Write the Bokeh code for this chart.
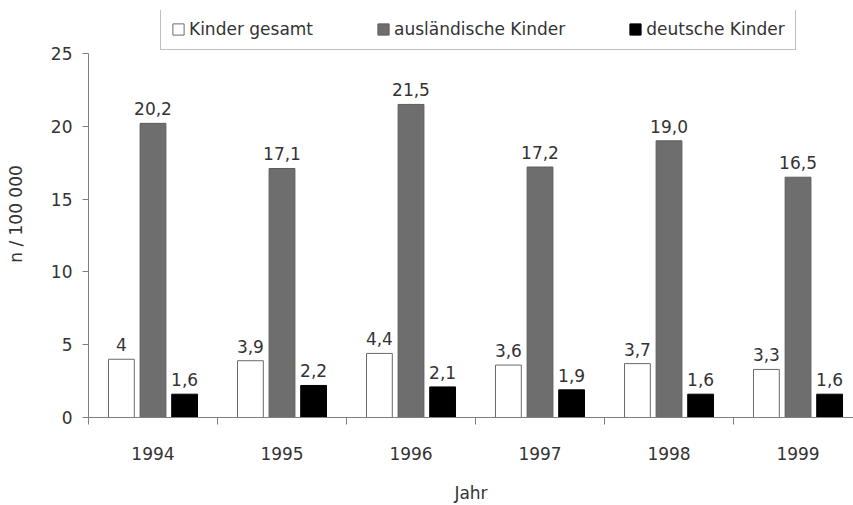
from bokeh.plotting import figure
from bokeh.models import (ColumnDataSource, Range1d, FixedTicker, Legend, LegendItem,
                          LabelSet)
from bokeh.transform import dodge
from bokeh.core.properties import value
from bokeh.embed import file_html
from bokeh.resources import INLINE

# ---- data ----
years = ["1994", "1995", "1996", "1997", "1998", "1999"]
kinder_gesamt = [4.0, 3.9, 4.4, 3.6, 3.7, 3.3]
auslaendische_kinder = [20.2, 17.1, 21.5, 17.2, 19.0, 16.5]
deutsche_kinder = [1.6, 2.2, 2.1, 1.9, 1.6, 1.6]
labels_gesamt = ["4", "3,9", "4,4", "3,6", "3,7", "3,3"]
labels_ausl = ["20,2", "17,1", "21,5", "17,2", "19,0", "16,5"]
labels_deut = ["1,6", "2,2", "2,1", "1,9", "1,6", "1,6"]
y_ticks = [0, 5, 10, 15, 20, 25]

FONT = "DejaVu Sans"
TXT = "#333333"
AXC = "#808080"

idx = list(range(len(years)))
src = ColumnDataSource(dict(x=idx, g=kinder_gesamt, a=auslaendische_kinder, d=deutsche_kinder,
                            gl=labels_gesamt, al=labels_ausl, dl=labels_deut))

# frame extends above the 25 mark so the legend can sit inside it
p = figure(width=853, height=505, output_backend="svg", toolbar_location=None,
           x_range=Range1d(-0.5, 5.43), y_range=Range1d(0, 27.95),
           min_border_left=88, min_border_right=0, min_border_top=10, min_border_bottom=87)
p.outline_line_color = None
p.xgrid.visible = False
p.ygrid.visible = False
p.background_fill_color = "white"
p.border_fill_color = "white"

off = 0.245
w = 0.2
r1 = p.vbar(x=dodge("x", -off), top="g", width=w, source=src,
            fill_color="white", line_color="#6a6a6a", line_width=1)
r2 = p.vbar(x="x", top="a", width=w, source=src,
            fill_color="#6e6e6e", line_color="#5c5c5c", line_width=1)
r3 = p.vbar(x=dodge("x", off), top="d", width=w, source=src,
            fill_color="#000000", line_color="#000000", line_width=1)

for col, lab, dx in (("g", "gl", -off), ("a", "al", 0.0), ("d", "dl", off)):
    ls = LabelSet(x=dodge("x", dx), y=col, text=lab, source=src,
                  text_align="center", text_baseline="bottom", y_offset=8,
                  text_font=value(FONT), text_font_size="17px", text_color=TXT)
    p.add_layout(ls)

# x axis
xa = p.xaxis[0]
xa.ticker = FixedTicker(ticks=idx, minor_ticks=[i - 0.5 for i in idx])
xa.major_label_overrides = {i: y for i, y in zip(idx, years)}
xa.major_tick_out = 0
xa.major_tick_in = 0
xa.major_tick_line_color = None
xa.minor_tick_out = 7
xa.minor_tick_in = 0
xa.minor_tick_line_color = AXC
xa.axis_line_color = AXC
xa.major_label_standoff = 22
xa.major_label_text_font = FONT
xa.major_label_text_font_size = "17px"
xa.major_label_text_color = TXT
xa.axis_label = "Jahr"
xa.axis_label_standoff = 20
xa.axis_label_text_font = FONT
xa.axis_label_text_font_size = "17px"
xa.axis_label_text_font_style = "normal"
xa.axis_label_text_color = TXT

# y axis
ya = p.yaxis[0]
ya.bounds = (0, 25)
ya.ticker = FixedTicker(ticks=y_ticks)
ya.major_tick_out = 6
ya.major_tick_in = 0
ya.minor_tick_line_color = None
ya.major_tick_line_color = AXC
ya.axis_line_color = AXC
ya.major_label_standoff = 10
ya.major_label_text_font = FONT
ya.major_label_text_font_size = "17px"
ya.major_label_text_color = TXT
ya.axis_label = "n / 100 000"
ya.axis_label_standoff = 22
ya.axis_label_text_font = FONT
ya.axis_label_text_font_size = "17px"
ya.axis_label_text_font_style = "normal"
ya.axis_label_text_color = TXT

legend = Legend(items=[LegendItem(label="Kinder gesamt", renderers=[r1]),
                       LegendItem(label="ausländische Kinder", renderers=[r2]),
                       LegendItem(label="deutsche Kinder", renderers=[r3])],
                orientation="horizontal", location=(72, 367), margin=0, padding=10,
                spacing=63, glyph_width=14, glyph_height=14, label_standoff=4,
                label_height=20, label_text_font=FONT, label_text_font_size="17px",
                label_text_color=TXT, border_line_color=AXC, border_line_width=1,
                background_fill_color="white", background_fill_alpha=1.0)
p.add_layout(legend)

open("out.html", "w").write(file_html(p, INLINE))
